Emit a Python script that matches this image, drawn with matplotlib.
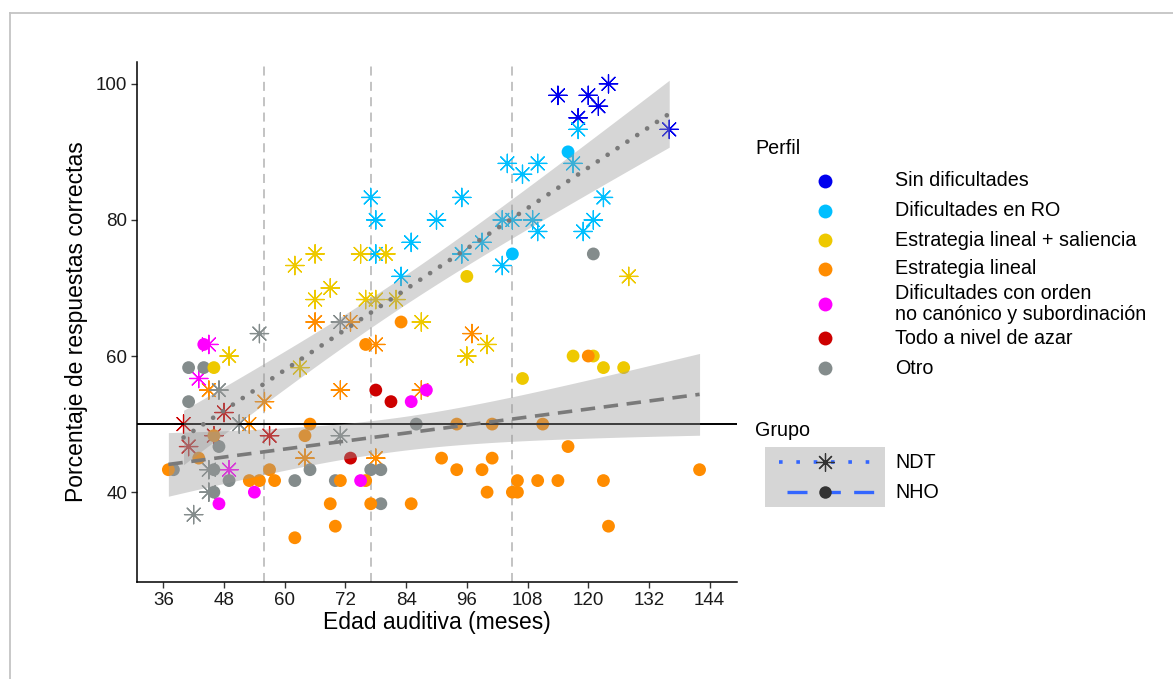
import numpy as np
import matplotlib.pyplot as plt
from matplotlib.patches import Rectangle

plt.rcParams['font.family'] = ['Liberation Sans', 'DejaVu Sans']

# perfil codes: 0 Sin dificultades, 1 Dif. RO, 2 lineal+saliencia, 3 lineal,
# 4 orden no canonico, 5 azar, 6 otro
perfiles = ["Sin dificultades", "Dificultades en RO", "Estrategia lineal + saliencia",
            "Estrategia lineal", "Dificultades con orden\nno canónico y subordinación",
            "Todo a nivel de azar", "Otro"]
colores = ["#0000EE", "#00BFFF", "#EEC900", "#FF8C00", "#FF00FF", "#CD0000", "#848C8C"]

# grupo NDT (asteriscos)
ndt_x = [114, 120, 124, 122, 118, 136,
         77, 78, 85, 78, 83, 118, 117, 104, 110, 107, 95, 123, 90, 103, 105, 109, 121, 99, 110, 119, 95, 103,
         62, 66, 75, 80, 69, 66, 76, 78, 82, 87, 49, 63, 128, 100, 96,
         66, 73, 78, 45, 71, 87, 56, 53, 64, 78, 97,
         45, 43, 49,
         48, 40, 46, 57, 41,
         71, 55, 47, 51, 71, 45, 45, 42]
ndt_y = [98.3, 98.3, 100, 96.7, 95, 93.3,
         83.3, 80, 76.7, 75, 71.7, 93.3, 88.3, 88.3, 88.3, 86.7, 83.3, 83.3, 80, 80, 80, 80, 80, 76.7, 78.3, 78.3, 75, 73.3,
         73.3, 75, 75, 75, 70, 68.3, 68.3, 68.3, 68.3, 65, 60, 58.3, 71.7, 61.7, 60,
         65, 65, 61.7, 55, 55, 55, 53.3, 50, 45, 45, 63.3,
         61.7, 56.7, 43.3,
         51.7, 50, 48.3, 48.3, 46.7,
         65, 63.3, 55, 50, 48.3, 43.3, 40, 36.7]
ndt_perfil = [0] * 6 + [1] * 22 + [2] * 15 + [3] * 11 + [4] * 3 + [5] * 5 + [6] * 8

# grupo NHO (circulos)
nho_x = [116, 105,
         121, 41, 44, 41, 86, 47, 38, 46, 65, 77, 79, 49, 62, 70, 46, 79,
         96, 46, 117, 121, 123, 127, 107,
         83, 76, 65, 46, 64, 43, 37, 57, 53, 55, 58, 71, 76, 69, 77, 85, 70, 62,
         120, 94, 101, 111, 116, 91, 101, 94, 99, 142, 106, 110, 114, 123, 100, 105, 106, 124,
         44, 85, 88, 47, 54, 75,
         78, 81, 73]
nho_y = [90, 75,
         75, 58.3, 58.3, 53.3, 50, 46.7, 43.3, 43.3, 43.3, 43.3, 43.3, 41.7, 41.7, 41.7, 40, 38.3,
         71.7, 58.3, 60, 60, 58.3, 58.3, 56.7,
         65, 61.7, 50, 48.3, 48.3, 45, 43.3, 43.3, 41.7, 41.7, 41.7, 41.7, 41.7, 38.3, 38.3, 38.3, 35, 33.3,
         60, 50, 50, 50, 46.7, 45, 45, 43.3, 43.3, 43.3, 41.7, 41.7, 41.7, 41.7, 40, 40, 40, 35,
         61.7, 53.3, 55, 38.3, 40, 41.7,
         55, 53.3, 45]
nho_perfil = [1] * 2 + [6] * 16 + [2] * 7 + [3] * 36 + [4] * 6 + [5] * 3

x_ticks = [36, 48, 60, 72, 84, 96, 108, 120, 132, 144]
y_ticks = [40, 60, 80, 100]
cortes = [56, 77, 105]
azar = 50


def t_975(df):
    z = 1.959964
    return z + (z**3 + z) / (4 * df) + (5 * z**5 + 16 * z**3 + 3 * z) / (96 * df**2)


def ajuste_lm(x, y):
    x = np.asarray(x, float)
    y = np.asarray(y, float)
    n = len(x)
    b, a = np.polyfit(x, y, 1)
    res = y - (a + b * x)
    s = np.sqrt(np.sum(res**2) / (n - 2))
    sxx = np.sum((x - x.mean())**2)
    xs = np.linspace(x.min(), x.max(), 100)
    fit = a + b * xs
    se = s * np.sqrt(1 / n + (xs - x.mean())**2 / sxx)
    t = t_975(n - 2)
    return xs, fit, fit - t * se, fit + t * se


W, H = 1173, 679
fig = plt.figure(figsize=(W / 100, H / 100), dpi=100)
ax = fig.add_axes([137 / W, 1 - 582 / H, 600 / W, 520 / H])

for xc in cortes:
    ax.axvline(xc, color="#BEBEBE", lw=1.3, ls=(0, (5, 3.5)), zorder=1)

ax.scatter(ndt_x, ndt_y, c=[colores[p] for p in ndt_perfil], marker=(8, 2, 0),
           s=175, linewidths=0.9, zorder=3)
ax.scatter(nho_x, nho_y, c=[colores[p] for p in nho_perfil], marker="o",
           s=85, linewidths=0, zorder=3)

ax.axhline(azar, color="black", lw=1.4, zorder=4)

# NDT: linea punteada, NHO: linea discontinua
xs, fit, lo, hi = ajuste_lm(ndt_x, ndt_y)
ax.fill_between(xs, lo, hi, color="#999999", alpha=0.4, lw=0, zorder=5)
ax.plot(xs, fit, color="#7A7A7A", lw=3.4, ls=(0, (0.01, 2.5)), dash_capstyle="round", zorder=6)

xs, fit, lo, hi = ajuste_lm(nho_x, nho_y)
ax.fill_between(xs, lo, hi, color="#999999", alpha=0.4, lw=0, zorder=5)
ax.plot(xs, fit, color="#7A7A7A", lw=2.6, ls=(0, (4, 2.4)), zorder=6)

ax.set_xlim(30.8, 149.4)
ax.set_ylim(26.8, 103.2)
ax.set_xticks(x_ticks)
ax.set_yticks(y_ticks)
ax.spines["top"].set_visible(False)
ax.spines["right"].set_visible(False)
for sp in ("left", "bottom"):
    ax.spines[sp].set_linewidth(1.1)
ax.tick_params(length=4, width=1, color="#333333", labelsize=13.5, labelcolor="#1A1A1A", pad=3)
ax.set_xlabel("Edad auditiva (meses)", fontsize=16.5, labelpad=2)
ax.set_ylabel("Porcentaje de respuestas correctas", fontsize=16.5, labelpad=6)

# leyendas dibujadas en coordenadas de pixel
lax = fig.add_axes([0, 0, 1, 1], zorder=-1)
lax.set_xlim(0, W)
lax.set_ylim(H, 0)
lax.axis("off")

# marco gris
lax.plot([10, W], [13, 13], color="#C4C4C4", lw=1.3)
lax.plot([10, 10], [13, H], color="#C4C4C4", lw=1.3)

fs_leg = 14.2
lax.text(755, 148, "Perfil", fontsize=fs_leg, va="center", ha="left")
filas_y = [181, 211, 240, 269, 304, 338, 368]
for fy, nombre, col in zip(filas_y, perfiles, colores):
    lax.plot(825, fy, "o", ms=10, color=col, mec="none")
    lax.text(895, fy, nombre, fontsize=fs_leg, va="center", ha="left", linespacing=1.12)

lax.text(755, 430, "Grupo", fontsize=fs_leg, va="center", ha="left")
lax.add_patch(Rectangle((765, 447), 120, 60, color="#D6D6D6", lw=0))
lax.plot([779, 874], [462, 462], color="#3366FF", lw=2.6, ls=(0, (1, 3.8)))
lax.plot(825, 462, marker=(8, 2, 0), ms=13, color="#333333", mew=0.9, ls="none")
lax.plot([787, 874], [492, 492], color="#3366FF", lw=2.4, ls=(0, (6, 4)))
lax.plot(825, 492, "o", ms=9, color="#333333", mec="none")
lax.text(895, 462, "NDT", fontsize=fs_leg, va="center", ha="left")
lax.text(895, 492, "NHO", fontsize=fs_leg, va="center", ha="left")

fig.savefig("out.png", dpi=100)
